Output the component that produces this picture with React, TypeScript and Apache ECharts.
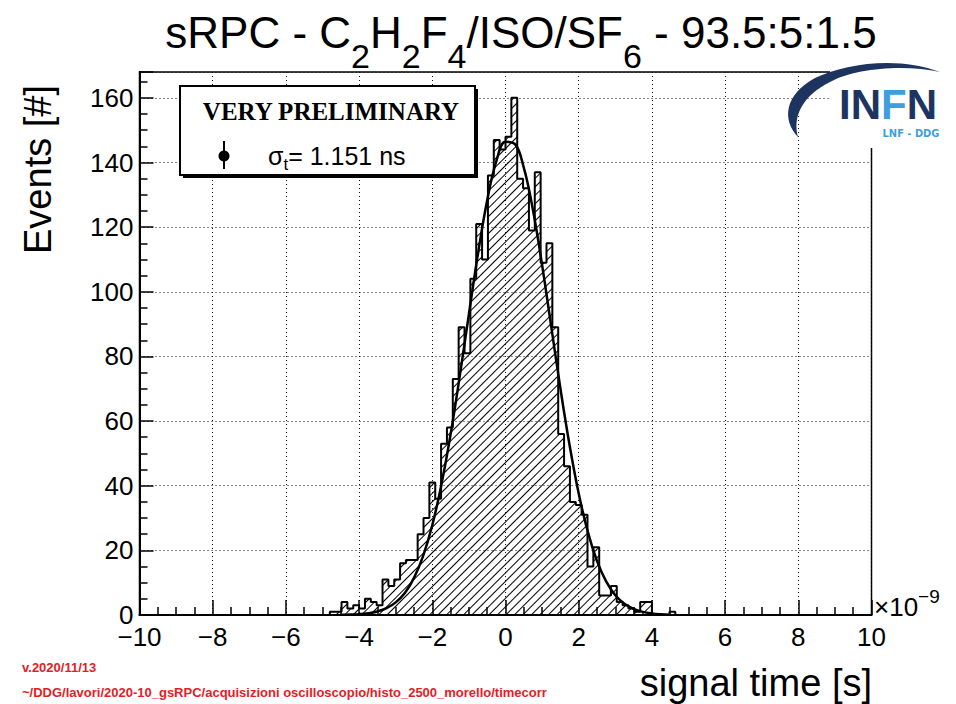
import React, { useEffect, useRef } from "react";
import * as echarts from "echarts";

// ---------- data ----------
const X_MIN = -10;
const X_MAX = 10;
const X_STEP = 2;
const Y_MIN = 0;
const Y_MAX = 168;
const Y_STEP = 20;

// histogram: bins of 0.16 ns, first listed bin starts at -4.96 ns
const BIN_FIRST_EDGE = -4.96;
const BIN_WIDTH = 0.16;
const COUNTS = [
  0, 1, 1, 4, 2, 3, 2, 5, 4, 3,
  11, 9, 11, 16, 17, 17, 25, 30, 41, 36,
  53, 58, 73, 89, 81, 104, 121, 110, 136, 147,
  144, 148, 160, 135, 132, 119, 137, 109, 115, 89,
  56, 46, 35, 34, 31, 15, 21, 6, 6, 9,
  4, 3, 2, 1, 4, 4, 0, 0, 0, 1,
  0,
];

// gaussian fit curve
const FIT_X = [
  -4.5, -4.25, -4, -3.75, -3.5, -3.25, -3, -2.75, -2.5, -2.25, -2, -1.75, -1.5,
  -1.25, -1, -0.75, -0.5, -0.25, 0, 0.25, 0.5, 0.75, 1, 1.25, 1.5, 1.75, 2,
  2.25, 2.5, 2.75, 3, 3.25, 3.5, 3.75, 4, 4.25, 4.5,
];
const FIT_Y = [
  0.05, 0.12, 0.26, 0.55, 1.1, 2.1, 3.9, 6.8, 11.5, 18.3, 27.8, 40.4, 55.9,
  73.9, 93.1, 111.9, 128.3, 140.4, 146.4, 145.8, 138.4, 125.3, 108.3, 89.2,
  70.1, 52.6, 37.6, 25.7, 16.7, 10.4, 6.1, 3.5, 1.9, 0.96, 0.47, 0.22, 0.09,
];

const TITLE_PARTS = ["sRPC - C", "2", "H", "2", "F", "4", "/ISO/SF", "6", " - 93.5:5:1.5"];
const LEGEND_HEADER = "VERY PRELIMINARY";
const LEGEND_ENTRY = ["σ", "t", "= 1.151 ns"];
const X_TITLE = "signal time [s]";
const Y_TITLE = "Events [#]";
const FOOT_1 = "v.2020/11/13";
const FOOT_2 =
  "~/DDG/lavori/2020-10_gsRPC/acquisizioni oscilloscopio/histo_2500_morello/timecorr";

// ---------- style ----------
const W = 956;
const H = 704;
const GRID = { left: 139.5, right: 84.5, top: 72, bottom: 89 };
const FONT = "'Liberation Sans', Arial, Helvetica, sans-serif";
const SERIF = "'Liberation Serif', 'Times New Roman', serif";
const NAVY = "#1d3461";
const LBLUE = "#3f9fdc";
const RED = "#e4201f";

const SWOOSH =
  "M18 77 C2 60 4 35 35 18 C65 3 120 -4 160 12 C125 4 75 8 50 22 C24 35 12 55 18 77 Z";
let registered = false;
function registerLogo() {
  if (registered) return;
  registered = true;
  echarts.graphic.registerShape(
    "infnSwoosh",
    (echarts.graphic as any).extendPath(SWOOSH, {})
  );
}

const minus = (v: number) => String(v).replace("-", "\u2212");

export default function App() {
  const ref = useRef<HTMLDivElement>(null);

  useEffect(() => {
    if (!ref.current) return;
    registerLogo();
    const chart = echarts.init(ref.current, null, {
      renderer: "svg",
      width: W,
      height: H,
    });

    const plotW = W - GRID.left - GRID.right;
    const binPx = (plotW / (X_MAX - X_MIN)) * BIN_WIDTH;

    const barData = COUNTS.map((c, i) => [
      BIN_FIRST_EDGE + (i + 0.5) * BIN_WIDTH,
      c,
    ]);
    const stepData: number[][] = COUNTS.map((c, i) => [
      BIN_FIRST_EDGE + i * BIN_WIDTH,
      c,
    ]);
    const lastEdge = BIN_FIRST_EDGE + COUNTS.length * BIN_WIDTH;
    stepData.push([lastEdge, COUNTS[COUNTS.length - 1]]);
    const fitData = FIT_X.map((x, i) => [x, FIT_Y[i]]);

    const title =
      "{m|" + TITLE_PARTS[0] + "}{s|" + TITLE_PARTS[1] + "}{m|" + TITLE_PARTS[2] +
      "}{s|" + TITLE_PARTS[3] + "}{m|" + TITLE_PARTS[4] + "}{s|" + TITLE_PARTS[5] +
      "}{m|" + TITLE_PARTS[6] + "}{s|" + TITLE_PARTS[7] + "}{m|" + TITLE_PARTS[8] + "}";

    const gridLine = { show: true, lineStyle: { color: "#111", width: 1, type: [1, 3] } };

    const option: any = {
      animation: false,
      backgroundColor: "#fff",
      grid: {
        ...GRID,
        show: true,
        borderColor: "#000",
        borderWidth: 1.5,
        backgroundColor: "transparent",
      },
      xAxis: [
        {
          type: "value",
          min: X_MIN,
          max: X_MAX,
          interval: X_STEP,
          axisLine: { show: true, onZero: false, lineStyle: { color: "#000", width: 2 } },
          axisTick: { show: true, inside: true, length: 15, lineStyle: { color: "#000", width: 1.5 } },
          minorTick: { show: true, splitNumber: 4, length: 8, lineStyle: { color: "#000", width: 1.5 } },
          axisLabel: {
            color: "#000",
            fontSize: 26,
            lineHeight: 18,
            fontFamily: FONT,
            margin: 13,
            formatter: (v: number) => minus(v),
            showMinLabel: true,
            showMaxLabel: true,
          },
          splitLine: gridLine,
        },
      ],
      yAxis: [
        {
          type: "value",
          min: Y_MIN,
          max: Y_MAX,
          interval: Y_STEP,
          axisLine: { show: true, onZero: false, lineStyle: { color: "#000", width: 2 } },
          axisTick: { show: true, inside: true, length: 14, lineStyle: { color: "#000", width: 1.5 } },
          minorTick: { show: true, splitNumber: 4, length: 8, lineStyle: { color: "#000", width: 1.5 } },
          axisLabel: {
            color: "#000",
            fontSize: 26,
            lineHeight: 18,
            fontFamily: FONT,
            margin: 6,
            formatter: (v: number) => (v % Y_STEP === 0 ? String(v) : ""),
          },
          splitLine: gridLine,
        },
      ],
      series: [
        {
          type: "bar",
          data: barData,
          barWidth: binPx + 0.3,
          silent: true,
          z: 1,
          itemStyle: {
            color: "rgba(0,0,0,0)",
            decal: {
              symbol: "rect",
              symbolSize: 1,
              color: "#000",
              backgroundColor: null,
              dashArrayX: [1, 0],
              dashArrayY: [1, 5],
              rotation: -Math.PI / 4,
            },
          },
        },
        {
          type: "line",
          data: stepData,
          step: "end",
          symbol: "none",
          silent: true,
          z: 3,
          lineStyle: { color: "#000", width: 2 },
        },
        {
          type: "line",
          data: fitData,
          smooth: 0.4,
          symbol: "none",
          silent: true,
          z: 4,
          lineStyle: { color: "#000", width: 2.5 },
        },
      ],
      graphic: [
        // title
        {
          type: "text",
          x: 521,
          y: 32,
          style: {
            text: title,
            align: "center",
            verticalAlign: "middle",
            rich: {
              m: { fontSize: 44, fontFamily: FONT, fill: "#000", lineHeight: 44 },
              s: { fontSize: 34, fontFamily: FONT, fill: "#000", lineHeight: 34, padding: [48, 0, 0, 0] },
            },
          },
        },
        // y title
        {
          type: "text",
          x: 38,
          y: 85,
          rotation: Math.PI / 2,
          style: {
            text: Y_TITLE,
            fontSize: 38,
            fontFamily: FONT,
            fill: "#000",
            align: "right",
            verticalAlign: "middle",
          },
        },
        // x title
        {
          type: "text",
          x: 872,
          y: 683,
          style: {
            text: X_TITLE,
            fontSize: 38,
            fontFamily: FONT,
            fill: "#000",
            align: "right",
            verticalAlign: "middle",
          },
        },
        // exponent
        {
          type: "text",
          x: 874,
          y: 607,
          style: {
            text: "{a|×10}{b|−9}",
            align: "left",
            verticalAlign: "middle",
            rich: {
              a: { fontSize: 26, fontFamily: FONT, fill: "#000" },
              b: { fontSize: 19, fontFamily: FONT, fill: "#000", padding: [0, 0, 22, 0] },
            },
          },
        },
        // legend
        {
          type: "rect",
          z: 50,
          shape: { x: 183, y: 89, width: 295, height: 89 },
          style: { fill: "#000" },
        },
        {
          type: "rect",
          z: 51,
          shape: { x: 180, y: 86, width: 295, height: 89 },
          style: { fill: "#fff", stroke: "#000", lineWidth: 2 },
        },
        {
          type: "text",
          z: 52,
          x: 331,
          y: 111,
          style: {
            text: LEGEND_HEADER,
            fontSize: 25,
            fontWeight: "bold",
            fontFamily: SERIF,
            fill: "#000",
            align: "center",
            verticalAlign: "middle",
          },
        },
        {
          type: "line",
          z: 52,
          shape: { x1: 224, y1: 141, x2: 224, y2: 169 },
          style: { stroke: "#000", lineWidth: 2 },
        },
        {
          type: "circle",
          z: 53,
          shape: { cx: 224, cy: 156, r: 5.5 },
          style: { fill: "#000" },
        },
        {
          type: "text",
          z: 52,
          x: 268,
          y: 156,
          style: {
            text: "{a|" + LEGEND_ENTRY[0] + "}{b|" + LEGEND_ENTRY[1] + "}{a|" + LEGEND_ENTRY[2] + "}",
            align: "left",
            verticalAlign: "middle",
            rich: {
              a: { fontSize: 25, fontFamily: FONT, fill: "#000" },
              b: { fontSize: 17, fontFamily: FONT, fill: "#000", padding: [16, 0, 0, 0] },
            },
          },
        },
        // logo
        {
          type: "rect",
          z: 60,
          shape: { x: 830, y: 58, width: 126, height: 90 },
          style: { fill: "#fff" },
        },
        {
          type: "infnSwoosh",
          z: 61,
          x: 780,
          y: 60,
          shape: {},
          style: { fill: NAVY },
        },
        {
          type: "text",
          z: 62,
          x: 839,
          y: 104,
          style: {
            text: "{n|IN}{f|F}{n|N}",
            align: "left",
            verticalAlign: "middle",
            rich: {
              n: { fontSize: 42, fontWeight: "bold", fontFamily: FONT, fill: NAVY },
              f: { fontSize: 42, fontWeight: "bold", fontFamily: FONT, fill: LBLUE },
            },
          },
        },
        {
          type: "text",
          z: 62,
          x: 911,
          y: 133,
          style: {
            text: "LNF - DDG",
            fontSize: 11,
            fontWeight: "bold",
            fontFamily: "'Liberation Sans Narrow', 'DejaVu Sans Condensed', sans-serif",
            fill: LBLUE,
            align: "center",
            verticalAlign: "middle",
          },
        },
        // footer
        {
          type: "text",
          x: 22,
          y: 667,
          style: {
            text: FOOT_1,
            fontSize: 13,
            fontWeight: "bold",
            fontFamily: FONT,
            fill: RED,
            align: "left",
            verticalAlign: "middle",
          },
        },
        {
          type: "text",
          x: 22,
          y: 692,
          style: {
            text: FOOT_2,
            fontSize: 13,
            fontWeight: "bold",
            fontFamily: FONT,
            fill: RED,
            align: "left",
            verticalAlign: "middle",
          },
        },
      ],
    };

    chart.setOption(option);
    return () => chart.dispose();
  }, []);

  return (
    <div
      ref={ref}
      style={{ position: "fixed", left: 0, top: 0, width: W, height: H, background: "#fff" }}
    />
  );
}
